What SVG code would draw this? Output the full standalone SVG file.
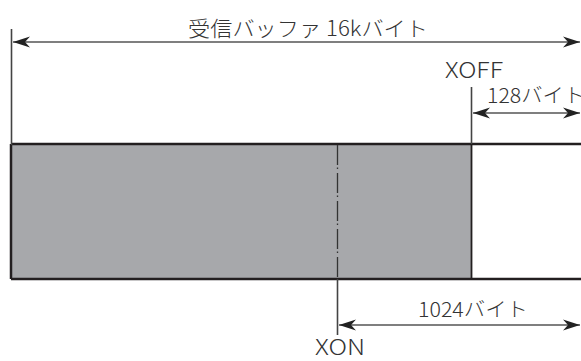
<svg xmlns="http://www.w3.org/2000/svg" width="581" height="361" viewBox="0 0 581 361">
<style>
.txt{font-family:"Noto Sans CJK JP","Liberation Sans",sans-serif;fill:#333;font-weight:300}
.dim{stroke:#555;stroke-width:1.6;fill:none}
.ext{stroke:#444;stroke-width:1.6;fill:none}
</style>
<defs>
<marker id="ah" markerUnits="userSpaceOnUse" markerWidth="20" markerHeight="12" viewBox="-18 -6 20 12" refX="0" refY="0" orient="auto-start-reverse">
<path d="M0,0 L-17,-5.5 L-12,0 L-17,5.5 Z" fill="#222"/>
</marker>
</defs>
<g id="buffer">
<rect x="11" y="144" width="460.5" height="135" fill="#a7a8ab"/>
<path d="M11,144 H581 M11,279 H581 M11,144 V279" stroke="#231f20" stroke-width="2.5" fill="none"/>
<line x1="471.5" y1="144" x2="471.5" y2="279" stroke="#231f20" stroke-width="1.8"/>
</g>
<g id="connectors">
<line class="ext" x1="11.5" y1="29" x2="11.5" y2="145"/>
<line class="ext" x1="471.5" y1="87" x2="471.5" y2="144"/>
<line x1="337.5" y1="145" x2="337.5" y2="278" stroke="#333" stroke-width="1.3" stroke-dasharray="20 2.5 1.5 4"/>
<line class="ext" x1="337.5" y1="279" x2="337.5" y2="335"/>
<line class="dim" x1="13" y1="42" x2="580" y2="42" marker-start="url(#ah)" marker-end="url(#ah)"/>
<line class="dim" x1="473" y1="113" x2="580" y2="113" marker-start="url(#ah)" marker-end="url(#ah)"/>
<line class="dim" x1="339" y1="325" x2="580" y2="325" marker-start="url(#ah)" marker-end="url(#ah)"/>
</g>
<g id="labels">
<text class="txt" x="188" y="36" font-size="21" textLength="240" lengthAdjust="spacingAndGlyphs">受信バッファ 16kバイト</text>
<text class="txt" x="445" y="78" font-size="22" textLength="58" lengthAdjust="spacingAndGlyphs">XOFF</text>
<text class="txt" x="487" y="103" font-size="20" textLength="98" lengthAdjust="spacingAndGlyphs">128バイト</text>
<text class="txt" x="418" y="317" font-size="20" textLength="110" lengthAdjust="spacingAndGlyphs">1024バイト</text>
<text class="txt" x="315" y="355" font-size="21" textLength="50" lengthAdjust="spacingAndGlyphs">XON</text>
</g>
</svg>
